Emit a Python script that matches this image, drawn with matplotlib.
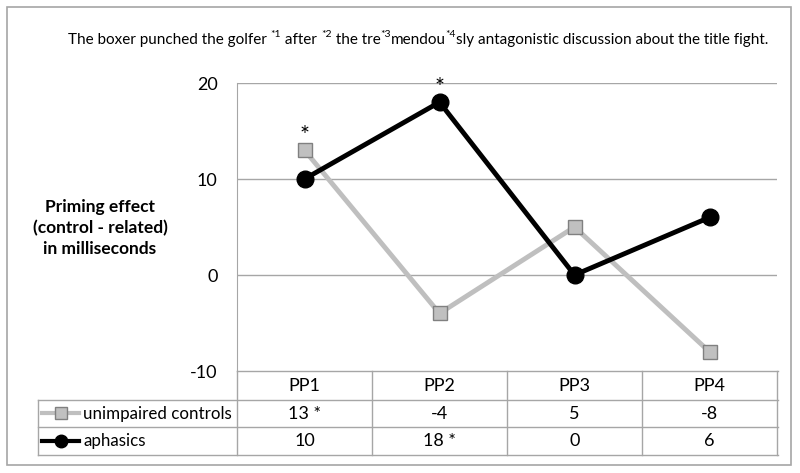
import matplotlib
matplotlib.use("Agg")
import matplotlib.pyplot as plt
from matplotlib.lines import Line2D
from matplotlib.patches import Rectangle

plt.rcParams['font.family'] = ['Lato', 'DejaVu Sans']

categories = ['PP1', 'PP2', 'PP3', 'PP4']
controls = [13, -4, 5, -8]
aphasics = [10, 18, 0, 6]
controls_sig = [True, False, False, False]
aphasics_sig = [False, True, False, False]
yticks = [-10, 0, 10, 20]
title_parts = [('The boxer punched the golfer ', False), ('*1', True), (' after ', False),
               ('*2', True), (' the tre', False), ('*3', True), ('mendou', False),
               ('*4', True), ('sly antagonistic discussion about the title fight.', False)]

GRID = '#a6a6a6'
LIGHT = '#bfbfbf'

W, H = 800, 473
fig = plt.figure(figsize=(W / 100, H / 100), dpi=100)

def fx(px):
    return px / W

def fy(py):
    return 1 - py / H

# outer border
fig.patches.append(Rectangle((fx(7), fy(465)), fx(784), 458 / H, transform=fig.transFigure,
                             fill=False, edgecolor=GRID, lw=1.2))

ax = fig.add_axes([fx(237), fy(371), fx(777) - fx(237), (371 - 83) / H])
x = list(range(len(categories)))
ax.set_xlim(-0.5, len(categories) - 0.5)
ax.set_ylim(-10, 20)
ax.set_yticks(yticks)
ax.set_yticklabels([str(t) for t in yticks], fontsize=13)
ax.tick_params(axis='y', length=0, pad=14)
ax.set_xticks([])
for s in ['top', 'right', 'bottom']:
    ax.spines[s].set_visible(False)
ax.spines['left'].set_color(GRID)
for t in yticks[1:]:
    ax.axhline(t, color=GRID, lw=1, zorder=0)

ax.plot(x, controls, color=LIGHT, lw=3.5, marker='s', ms=10, mfc='#c0c0c0',
        mec='#808080', mew=1, zorder=3, clip_on=False)
ax.plot(x, aphasics, color='black', lw=3.5, marker='o', ms=12, zorder=4, clip_on=False)
for series, sig in [(controls, controls_sig), (aphasics, aphasics_sig)]:
    for xi, v, s in zip(x, series, sig):
        if s:
            ax.annotate('*', (xi, v), xytext=(0, 3), textcoords='offset points',
                        ha='center', va='bottom', fontsize=17)

fig.text(fx(100), fy(228), 'Priming effect\n(control - related)\nin milliseconds',
         ha='center', va='center', fontsize=12.5, fontweight='bold', linespacing=1.35)

# data table below the axis
rows_y = [371, 400, 427, 455]
fig.canvas.draw()
x_left_px = 38
for i, yy in enumerate(rows_y):
    x0 = fx(237) if i == 0 else fx(x_left_px)
    fig.add_artist(Line2D([x0, fx(778)], [fy(yy), fy(yy)], transform=fig.transFigure,
                          color=GRID, lw=1))
for k in range(len(categories) + 1):
    xpx = ax.transData.transform((k - 0.5, 0))[0]
    fig.add_artist(Line2D([fx(xpx), fx(xpx)], [fy(371), fy(455)], transform=fig.transFigure,
                          color=GRID, lw=1))
fig.add_artist(Line2D([fx(x_left_px)] * 2, [fy(400), fy(455)], transform=fig.transFigure,
                      color=GRID, lw=1))

def star(v, s):
    return f'{v} *' if s else str(v)

for xi, c in enumerate(categories):
    xpx = ax.transData.transform((xi, 0))[0]
    fig.text(fx(xpx), fy(386), c, ha='center', va='center', fontsize=13)
    fig.text(fx(xpx), fy(414), star(controls[xi], controls_sig[xi]),
             ha='center', va='center', fontsize=13)
    fig.text(fx(xpx), fy(441), star(aphasics[xi], aphasics_sig[xi]),
             ha='center', va='center', fontsize=13)

# legend keys inside the table
fig.add_artist(Line2D([fx(42), fx(79)], [fy(413), fy(413)], transform=fig.transFigure,
                      color=LIGHT, lw=3))
fig.add_artist(Line2D([fx(60.5)], [fy(413)], transform=fig.transFigure, marker='s', ms=8,
                      mfc='#c0c0c0', mec='#808080', lw=0))
fig.add_artist(Line2D([fx(42), fx(79)], [fy(441), fy(441)], transform=fig.transFigure,
                      color='black', lw=3))
fig.add_artist(Line2D([fx(60.5)], [fy(441)], transform=fig.transFigure, marker='o', ms=9,
                      color='black', lw=0))
fig.text(fx(83), fy(414), 'unimpaired controls', ha='left', va='center', fontsize=12.2)
fig.text(fx(83), fy(441), 'aphasics', ha='left', va='center', fontsize=12.2)

# title with superscripts placed piece by piece
renderer = fig.canvas.get_renderer()
cur = 68
for txt, sup in title_parts:
    t = fig.text(fx(cur), fy(44) + (0.015 if sup else 0), txt, ha='left', va='baseline',
                 fontsize=7.5 if sup else 11)
    bb = t.get_window_extent(renderer)
    cur += bb.width

fig.savefig('out.png', dpi=100)
